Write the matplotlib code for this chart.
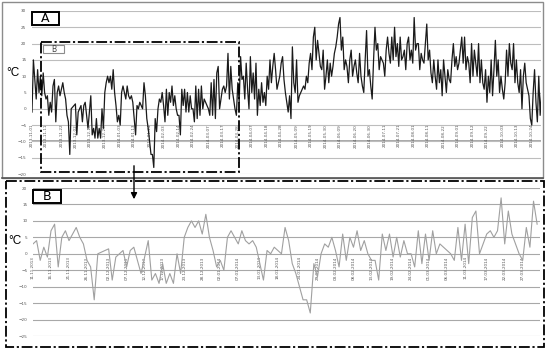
import numpy as np
import pandas as pd
import matplotlib
matplotlib.use('Agg')
import matplotlib.pyplot as plt
from matplotlib.patches import Rectangle

# daily temperatures (degC), 2013-11-01 .. 2014-10-31
early_nov = [-1, 15, 9, 3, 12, 5, 10, 4, 11, 5]

# 2013-11-11 .. 2014-03-31 (the zoomed part, panel B)
winter = [3, 4, -2, 2, -1, 7, 9, -4, 5, 7,
          4, 6, 8, 5, 3, -2, -4, -14, 0, 0.5,
          1, 1.5, -8, -1, 0, 1, -4, 1, 2, -2,
          -6, -1, 4, -8, -6, -9, -3, -9, -6, -9,
          0, -6, 5, 8, 10, 8, 10, 6, 12, 5,
          1, -4, -2, -5, 5, 7, 5, 3, 7, 4,
          3, 4, 2, -3, -8, 1, 0, 2, 1, 0,
          8, 4, -3, -6, -10, -14, -14, -18, -3, -7,
          0, 3, 2, 5, 1, -4, 6, -2, 5, 2,
          7, 1, 4, 0, -2, -2, -8, 6, 1, 6,
          -1, 5, -1, 4, 0, 0, -4, 7, -3, 6,
          -2, 7, 0, 3, 2, 1, 0, -2, 8, -2,
          9, -3, 11, 13, 0, 3, 6, 7, 5, 7,
          17, 3, 13, 6, 3, 0, -2, 8, 2, 16,
          9]

# 2014-04-01 .. 2014-10-31
summer = [10, 3, 14, 6, 0, 16, 5, 11, 3, 14,
          -2, 6, 1, 8, 2, 5, 1, 10, 6, 15,
          8, 13, 17,
          12, 6, 8, 10, 14, 16, 9, 5, 2, -1,
          4, -3, 19, 8, 5, 15, 2, 4, 5, 6,
          7, 6, 10, 8, 14, 17, 12, 22, 25, 15,
          21, 17, 13, 12, 18, 6, 10, 15, 8, 14,
          10, 13, 17, 19, 22, 26, 28, 18, 22, 12,
          15, 13, 8, 15, 18, 10, 13, 15, 11, 8,
          17, 10, 7, 5, 15, 24, 10, 12, 7, 3,
          15, 25, 18, 20, 12, 16, 15, 14, 10, 18,
          22, 17, 14, 22, 15, 25, 16, 20, 13, 22,
          15, 16, 18, 12, 20, 22, 15, 18, 14, 28,
          18, 20, 20, 12, 17, 15, 14, 20, 26, 15,
          18, 11, 8, 15, 10, 6, 15, 8, 12, 4,
          15, 10, 5, 12, 9, 8, 15, 20, 13, 16,
          12, 14, 18, 22, 14, 22, 12, 16, 14, 8,
          20, 10, 18, 14, 10, 20, 8, 15, 8, 6,
          12, 2, 10, 5, 15, 4, 12, 21, 10, 15,
          5, 10, 6, 3, 8, 18, 10, 20, 14, 12,
          20, 8, 15, 8, 5, 12, 0, 10, 14, 8,
          6, 4, -3, -5, 5, 12, 2, -4, 10, -2,
          5]

a_start = pd.Timestamp('2013-11-01')
b_start = pd.Timestamp('2013-11-11')

a_labels = ['2013-11-01', '2013-11-11', '2013-11-22', '2013-12-02', '2013-12-12',
            '2013-12-23', '2014-01-03', '2014-01-13', '2014-01-24', '2014-02-03',
            '2014-02-14', '2014-02-24', '2014-03-07', '2014-03-17', '2014-03-28',
            '2014-04-07', '2014-04-18', '2014-04-28', '2014-05-09', '2014-05-19',
            '2014-05-30', '2014-06-09', '2014-06-20', '2014-06-30', '2014-07-11',
            '2014-07-21', '2014-08-01', '2014-08-11', '2014-08-22', '2014-09-01',
            '2014-09-12', '2014-09-22', '2014-10-03', '2014-10-13', '2014-10-24']

b_labels = ['11.11.2013', '16.11.2013', '21.11.2013', '26.11.2013', '02.12.2013',
            '07.12.2013', '12.12.2013', '17.12.2013', '23.12.2013', '28.12.2013',
            '02.01.2014', '07.01.2014', '13.01.2014', '18.01.2014', '24.01.2014',
            '29.01.2014', '03.02.2014', '08.02.2014', '13.02.2014', '19.02.2014',
            '24.02.2014', '01.03.2014', '06.03.2014', '11.03.2014', '17.03.2014',
            '22.03.2014', '27.03.2014']

a_temps = early_nov + winter + summer
b_temps = winter

fig = plt.figure(figsize=(5.5, 3.53), dpi=100)

# ---- panel A : whole year
axA = fig.add_axes([32/550, 1-174/353, 509/550, 163/353])
axA.plot(np.arange(len(a_temps)), a_temps, color='#1a1a1a', lw=0.9, zorder=3)
axA.set_xlim(0, 363.6)
axA.set_ylim(-20, 30)
axA.set_yticks(range(-20, 31, 5))
axA.set_xticks([])
axA.grid(axis='y', color='#bdbdbd', lw=0.8)
axA.axhline(-10, color='#9a9a9a', lw=1.2, zorder=1)
axA.tick_params(axis='y', labelsize=3, length=0, pad=4, labelcolor='#555555')
for s in axA.spines.values():
    s.set_visible(False)
for lbl in a_labels:
    d = (pd.Timestamp(lbl) - a_start).days
    axA.text(d, -4.6, lbl, rotation=90, ha='center', va='top', fontsize=3,
             color='#555555', zorder=2)

# ---- panel B : zoom on the winter
axB = fig.add_axes([33/550, 1-336/353, 507/550, 148/353])
axB.plot(np.arange(len(b_temps)), b_temps, color='#a0a0a0', lw=0.8, zorder=3)
axB.set_xlim(0, 140.8)
axB.set_ylim(-25, 20)
axB.set_yticks(range(-25, 21, 5))
axB.set_xticks([])
axB.grid(axis='y', color='#a8a8a8', lw=0.8)
axB.tick_params(axis='y', labelsize=3, length=0, pad=4, labelcolor='#555555')
for s in axB.spines.values():
    s.set_visible(False)
for lbl in b_labels:
    d = (pd.to_datetime(lbl, format='%d.%m.%Y') - b_start).days
    axB.text(d, -0.8, lbl, rotation=90, ha='center', va='top', fontsize=3,
             color='#555555', zorder=2)

# ---- frames, labels, arrow (pixel coordinates)
ov = fig.add_axes([0, 0, 1, 1])
ov.set_xlim(0, 550)
ov.set_ylim(353, 0)
ov.axis('off')

ov.add_patch(Rectangle((2, 2), 541, 176, fill=False, ec='#8c8c8c', lw=1))
ov.plot([2, 543], [178, 178], color='#555555', lw=1.2)
ov.add_patch(Rectangle((6, 181), 538, 166, fill=False, ec='black', lw=1.3,
                       ls=(0, (6, 1.5, 1.2, 1.5))))
ov.add_patch(Rectangle((41, 42), 198, 130, fill=False, ec='black', lw=1.3,
                       ls=(0, (6, 1.5, 1.2, 1.5))))

ov.add_patch(Rectangle((32, 12), 27, 13, fill=False, ec='black', lw=1.4))
ov.text(45.5, 18.8, 'A', ha='center', va='center', fontsize=9)
ov.add_patch(Rectangle((43, 45), 21, 8, fill=False, ec='#8c8c8c', lw=0.8))
ov.text(53.5, 49.2, 'B', ha='center', va='center', fontsize=5.5, color='#444444')
ov.add_patch(Rectangle((33, 190), 28, 13, fill=False, ec='black', lw=1.4))
ov.text(47, 196.8, 'B', ha='center', va='center', fontsize=9)

ov.text(13, 73, '°C', ha='center', va='center', fontsize=8.5,
        family='Liberation Sans')
ov.text(15, 241, '°C', ha='center', va='center', fontsize=8.5,
        family='Liberation Sans')

ov.annotate('', xy=(134, 202), xytext=(134, 163),
            arrowprops=dict(arrowstyle='-|>', color='black', lw=1,
                            mutation_scale=9))

fig.savefig('out.png', dpi=100)
